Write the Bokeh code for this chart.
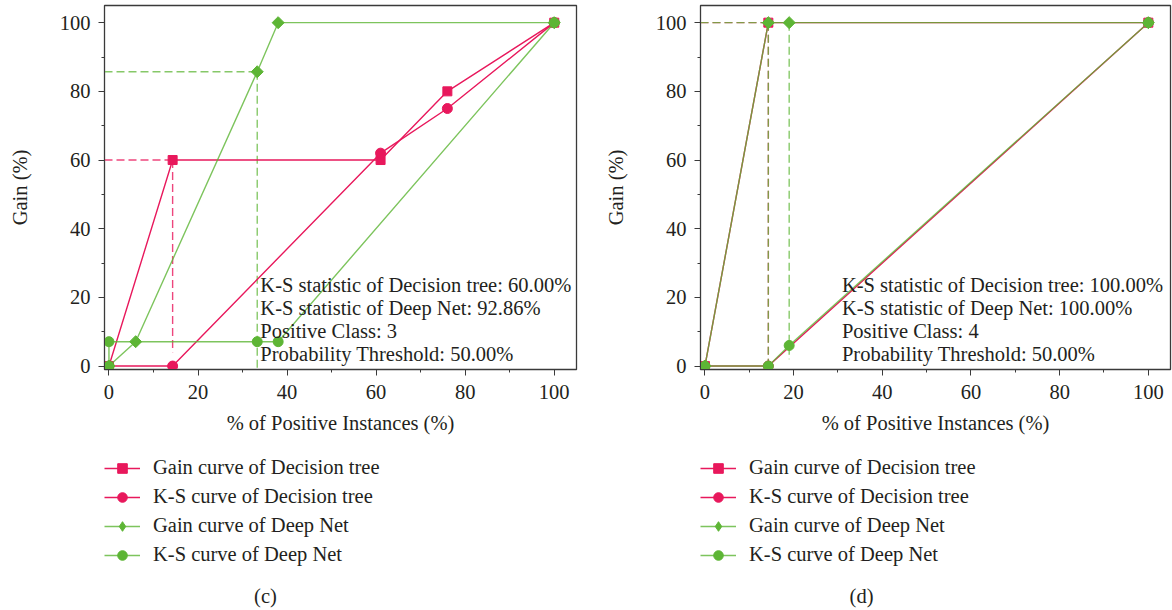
from bokeh.plotting import figure
from bokeh.layouts import row, column
from bokeh.models import Legend, LegendItem, Label, SingleIntervalTicker, Range1d
from bokeh.embed import file_html
from bokeh.resources import INLINE

FONT = "Liberation Serif"
PINK = "#E8185C"
GREEN = "#5DB535"
INK = "#231f20"
FS = "20.5px"

# ---- panel (c): positive class 3 ----
c_gain_dt_x = [0, 14.3, 61, 76, 100]
c_gain_dt_y = [0, 60, 60, 80, 100]
c_ks_dt_x = [0, 14.3, 61, 76, 100]
c_ks_dt_y = [0, 0, 62, 75, 100]
c_gain_dn_x = [0, 6, 33.3, 38, 100]
c_gain_dn_y = [0, 7.1, 85.7, 100, 100]
c_ks_dn_x = [0, 0, 33.3, 38, 100]
c_ks_dn_y = [0, 7.1, 7.1, 7.1, 100]
c_guide_dt_xs = [[-1, 14.3], [14.3, 14.3]]
c_guide_dt_ys = [[60, 60], [60, 4]]
c_guide_dn_xs = [[-1, 33.3], [33.3, 33.3]]
c_guide_dn_ys = [[85.7, 85.7], [85.7, -1]]
c_notes = ["K-S statistic of Decision tree: 60.00%",
           "K-S statistic of Deep Net: 92.86%",
           "Positive Class: 3",
           "Probability Threshold: 50.00%"]

# ---- panel (d): positive class 4 ----
d_gain_dt_x = [0, 14.3, 100]
d_gain_dt_y = [0, 100, 100]
d_ks_dt_x = [0, 14.3, 100]
d_ks_dt_y = [0, 0, 100]
d_gain_dn_x = [0, 14.3, 19, 100]
d_gain_dn_y = [0, 100, 100, 100]
d_ks_dn_x = [0, 14.3, 19, 100]
d_ks_dn_y = [0, 0, 6, 100]
d_guide_dt_xs = [[-1, 14.3], [14.3, 14.3]]
d_guide_dt_ys = [[100, 100], [100, 1]]
d_guide_dn_xs = [[-1, 14.3], [14.3, 14.3], [19, 19]]
d_guide_dn_ys = [[100, 100], [100, 1], [100, 2]]
d_notes = ["K-S statistic of Decision tree: 100.00%",
           "K-S statistic of Deep Net: 100.00%",
           "Positive Class: 4",
           "Probability Threshold: 50.00%"]

labels = ["Gain curve of Decision tree", "K-S curve of Decision tree",
          "Gain curve of Deep Net", "K-S curve of Deep Net"]


def add_curves(p, series, sq, ci, diamond):
    """Draw the four curves (line + markers) and return their renderer pairs."""
    (gdx, gdy), (kdx, kdy), (gnx, gny), (knx, kny) = series
    out = []
    out.append([p.line(gdx, gdy, line_color=PINK, line_width=1.4),
                p.scatter(gdx, gdy, marker="square", size=sq, color=PINK)])
    out.append([p.line(kdx, kdy, line_color=PINK, line_width=1.4),
                p.scatter(kdx, kdy, marker="circle", size=ci, color=PINK)])
    out.append([p.line(gnx, gny, line_color=GREEN, line_width=1.4, line_alpha=0.8),
                p.scatter(gnx, gny, color=GREEN, **diamond)])
    out.append([p.line(knx, kny, line_color=GREEN, line_width=1.4, line_alpha=0.8),
                p.scatter(knx, kny, marker="circle", size=ci, color=GREEN)])
    return out


def make_panel(width, border_left, border_right, series, guides, notes, note_x, caption):
    p = figure(width=width, height=443, output_backend="svg", toolbar_location=None,
               x_range=Range1d(-1, 105), y_range=Range1d(-1, 105),
               min_border_left=border_left, min_border_right=border_right,
               min_border_top=5, min_border_bottom=74)
    p.outline_line_color = "#3a3a3a"
    p.outline_line_width = 1.3
    p.grid.visible = False

    for ax in (p.xaxis[0], p.yaxis[0]):
        ax.ticker = SingleIntervalTicker(interval=20, num_minor_ticks=2)
        ax.major_tick_in = 0
        ax.major_tick_out = 6
        ax.minor_tick_in = 0
        ax.minor_tick_out = 3
        ax.axis_line_color = "#3a3a3a"
        ax.major_tick_line_color = "#3a3a3a"
        ax.minor_tick_line_color = "#3a3a3a"
        ax.major_label_text_font = FONT
        ax.major_label_text_font_size = FS
        ax.major_label_text_color = INK
        ax.axis_label_text_font = FONT
        ax.axis_label_text_font_size = FS
        ax.axis_label_text_font_style = "normal"
        ax.axis_label_text_color = INK
    p.xaxis.axis_label = "% of Positive Instances (%)"
    p.yaxis.axis_label = "Gain (%)"
    p.xaxis.major_label_standoff = 9
    p.xaxis.axis_label_standoff = 10
    p.yaxis.major_label_standoff = 8
    p.yaxis.axis_label_standoff = 26

    (pxs, pys), (gxs, gys) = guides
    p.multi_line(pxs, pys, line_color=PINK, line_dash="8 4", line_width=1.4, line_alpha=0.8)
    p.multi_line(gxs, gys, line_color=GREEN, line_dash="8 4", line_width=1.4, line_alpha=0.75)

    add_curves(p, series, 9, 10, dict(marker="square", angle=0.785398, size=8.5))

    for i, t in enumerate(notes):
        p.add_layout(Label(x=note_x, y=23.6 - 6.65 * i, text=t, text_font=FONT,
                           text_font_size=FS, text_color=INK,
                           text_baseline="middle", text_align="left"))

    # key and caption sit in a strip under the chart; the strip's y range lies
    # above the data, so only the legend samples of the curves show there
    k = figure(width=width, height=167, output_backend="svg", toolbar_location=None,
               x_range=Range1d(-1, 105), y_range=Range1d(200, 300),
               x_axis_type=None, y_axis_type=None,
               min_border_left=border_left, min_border_right=border_right,
               min_border_top=0, min_border_bottom=0)
    k.outline_line_color = None
    k.grid.visible = False
    pairs = add_curves(k, series, 8, 9, dict(marker="diamond", size=13))
    legend = Legend(items=[LegendItem(label=lab, renderers=rs) for lab, rs in zip(labels, pairs)],
                    location=(0, 41), orientation="vertical",
                    margin=0, padding=0, spacing=0,
                    glyph_width=36, glyph_height=24, label_height=29,
                    label_standoff=13,
                    label_text_font=FONT, label_text_font_size=FS,
                    label_text_color=INK,
                    border_line_color=None, background_fill_alpha=0)
    k.add_layout(legend)
    k.add_layout(Label(x=161, y=15, x_units="screen", y_units="screen", text=caption,
                       text_font=FONT, text_font_size=FS, text_color=INK,
                       text_align="center", text_baseline="middle"))
    return column(p, k, spacing=0)


pc = make_panel(590, 104, 14,
                [(c_gain_dt_x, c_gain_dt_y), (c_ks_dt_x, c_ks_dt_y),
                 (c_gain_dn_x, c_gain_dn_y), (c_ks_dn_x, c_ks_dn_y)],
                [(c_guide_dt_xs, c_guide_dt_ys), (c_guide_dn_xs, c_guide_dn_ys)],
                c_notes, 34.0, "(c)")
pd_ = make_panel(582, 110, 2,
                 [(d_gain_dt_x, d_gain_dt_y), (d_ks_dt_x, d_ks_dt_y),
                  (d_gain_dn_x, d_gain_dn_y), (d_ks_dn_x, d_ks_dn_y)],
                 [(d_guide_dt_xs, d_guide_dt_ys), (d_guide_dn_xs, d_guide_dn_ys)],
                 d_notes, 30.9, "(d)")

layout = row(pc, pd_, spacing=0)
open("out.html", "w").write(file_html(layout, INLINE))
